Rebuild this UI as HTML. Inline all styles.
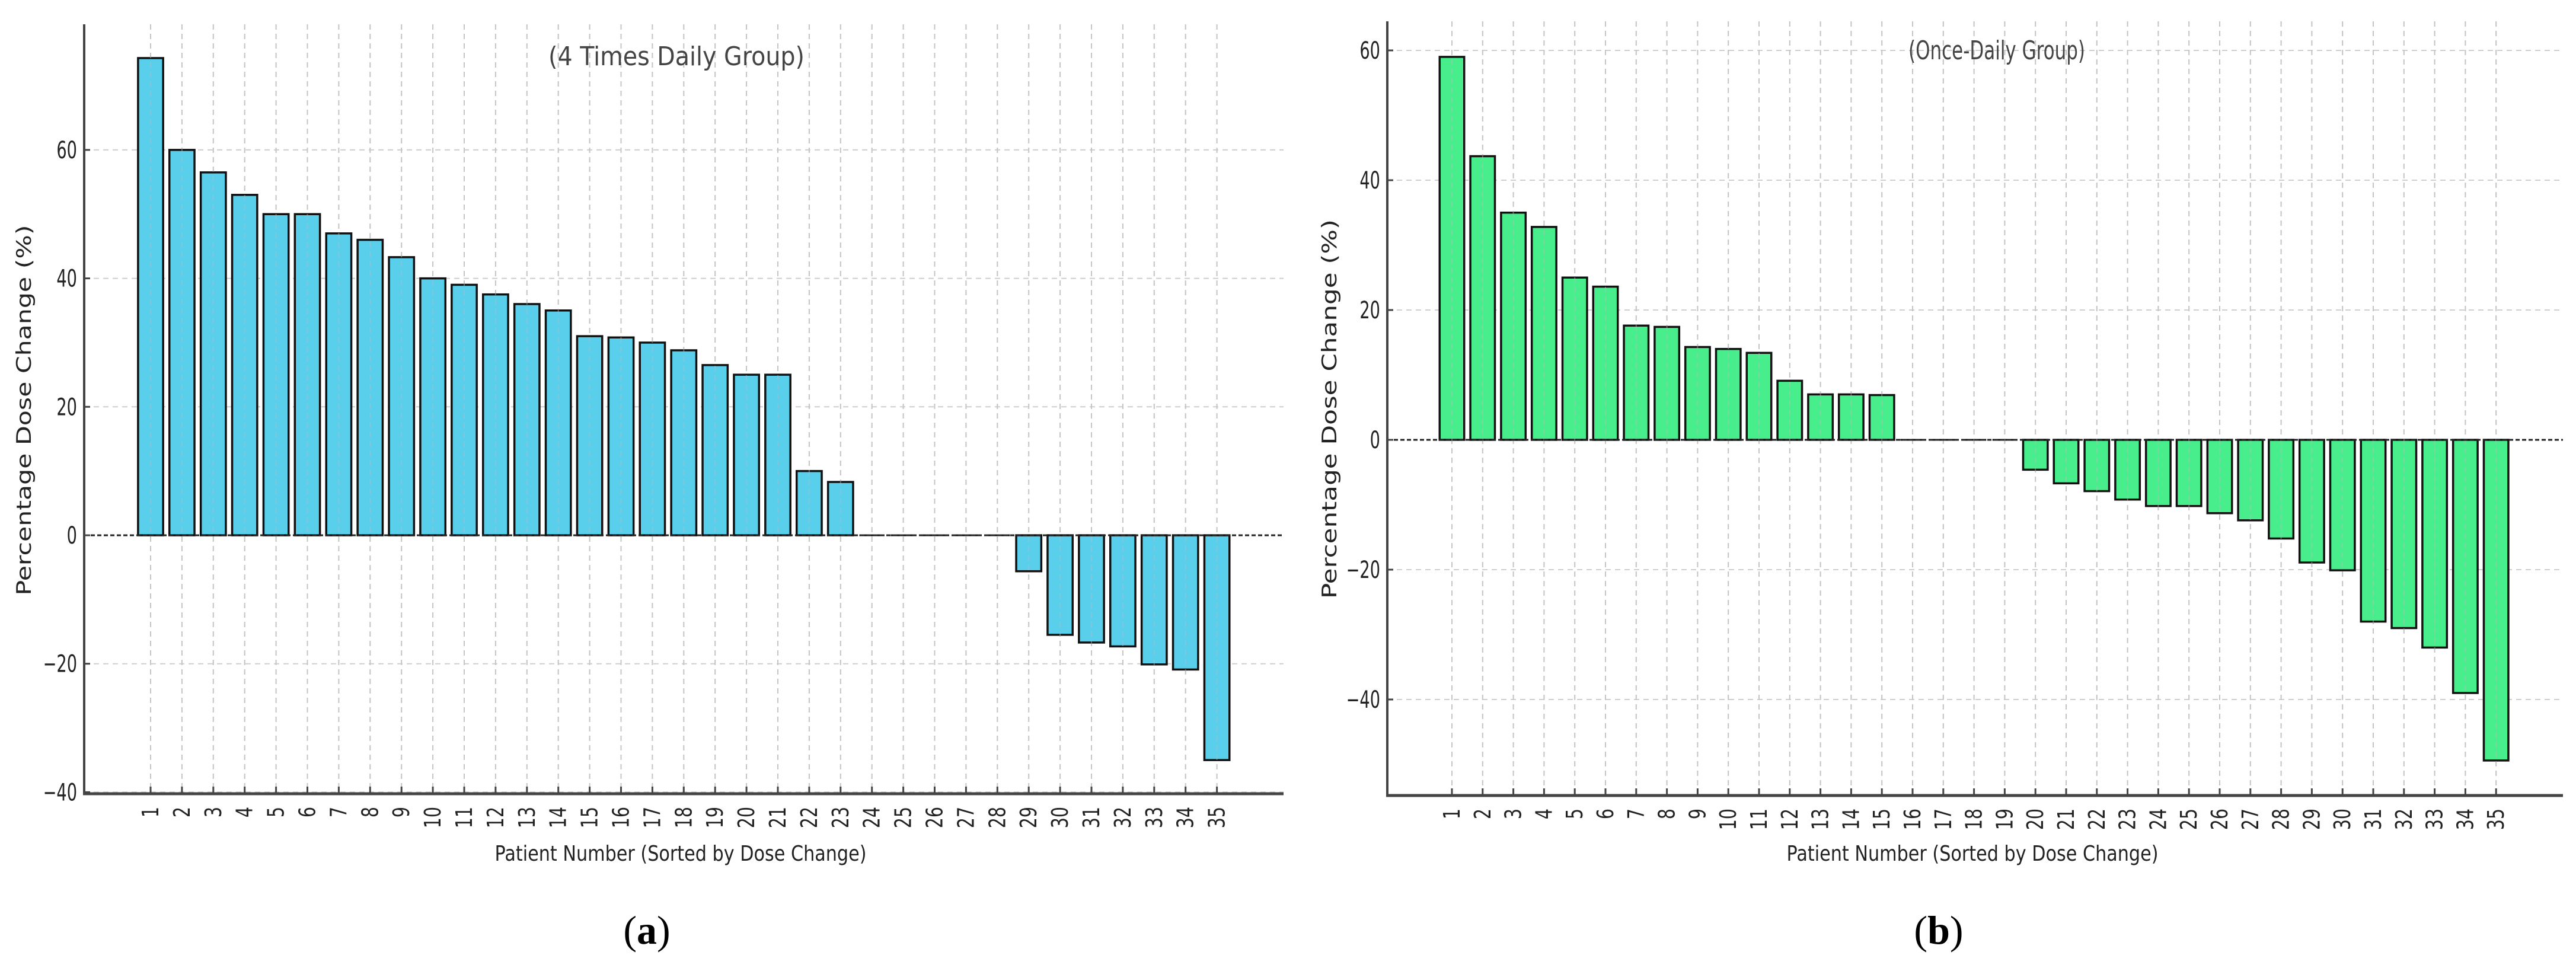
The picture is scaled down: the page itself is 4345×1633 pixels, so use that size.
<!DOCTYPE html>
<html><head><meta charset="utf-8"><style>
html,body{margin:0;padding:0;background:#fff;}
svg{display:block;}
text{font-family:"DejaVu Sans","Liberation Sans",sans-serif;}
</style></head><body>
<svg id="fig" width="4345" height="1633" viewBox="0 0 4345 1633" xmlns="http://www.w3.org/2000/svg">
<rect x="0" y="0" width="4345" height="1633" fill="#fff"/>
<g id="panelA"></g>
<g id="panelB"></g>
<text x="1091" y="1592" font-size="68" text-anchor="middle" style="font-family:'Liberation Serif',serif">(<tspan font-weight="bold">a</tspan>)</text>
<text x="3270" y="1592" font-size="68" text-anchor="middle" style="font-family:'Liberation Serif',serif">(<tspan font-weight="bold">b</tspan>)</text>
</svg>
<script>
const patientsA = ["1","2","3","4","5","6","7","8","9","10","11","12","13","14","15","16","17","18","19","20","21","22","23","24","25","26","27","28","29","30","31","32","33","34","35"];
const valuesA = [74.3,60,56.5,53,50,50,47,46,43.3,40,39,37.5,36,35,31,30.8,30,28.8,26.5,25,25,10,8.3,0,0,0,0,0,-5.6,-15.5,-16.7,-17.3,-20.1,-20.9,-35];
const ticksA = [-40,-20,0,20,40,60];
const patientsB = ["1","2","3","4","5","6","7","8","9","10","11","12","13","14","15","16","17","18","19","20","21","22","23","24","25","26","27","28","29","30","31","32","33","34","35"];
const valuesB = [59,43.7,35,32.8,25,23.6,17.6,17.4,14.3,14,13.4,9.1,7,7,6.9,0,0,0,0,-4.6,-6.7,-7.9,-9.2,-10.2,-10.2,-11.3,-12.4,-15.2,-18.9,-20.1,-28,-29,-32,-39,-49.4];
const ticksB = [-40,-20,0,20,40,60];

const NS="http://www.w3.org/2000/svg";
function mk(tag, attrs, parent){const e=document.createElementNS(NS,tag);for(const k in attrs)e.setAttribute(k,attrs[k]);parent.appendChild(e);return e;}

function drawPanel(g, cfg, cats, vals, ticks){
  const yScale = v => cfg.y0 - v*cfg.pxPer;
  const xScale = i => cfg.xc1 + i*cfg.step;
  // grid verticals
  cats.forEach((c,i)=>{
    const l=mk('line',{x1:xScale(i),x2:xScale(i),y1:cfg.top,y2:cfg.bottom,stroke:'#cfcfcf','stroke-width':2,'stroke-dasharray':'9,7'},g);
    
    
  });
  ticks.forEach(t=>{
    if(t===0) return;
    const l=mk('line',{x1:cfg.left,x2:cfg.right,y1:yScale(t),y2:yScale(t),stroke:'#cfcfcf','stroke-width':2,'stroke-dasharray':'9,7'},g);
    
    
  });
  // bars
  const bw = cfg.step*0.8;
  vals.forEach((v,i)=>{
    const x=xScale(i)-bw/2;
    if(v===0){
      const l=mk('line',{x1:x,x2:x+bw,y1:yScale(0),y2:yScale(0),stroke:'#111','stroke-width':3},g);
      
      
    } else {
      const y=Math.min(yScale(v),yScale(0)), h=Math.abs(yScale(v)-yScale(0));
      const r=mk('rect',{x:x,y:y,width:bw,height:h,fill:cfg.color,stroke:'#111','stroke-width':3.5},g);
      
      
    }
  });
  // grid over bars (faint)
  cats.forEach((c,i)=>{
    const l=mk('line',{x1:xScale(i),x2:xScale(i),y1:cfg.top,y2:cfg.bottom,stroke:'#bbbbbb','stroke-width':2,'stroke-dasharray':'9,7',opacity:0.45},g);
    
    
  });
  // zero line
  const z=mk('line',{x1:cfg.left,x2:cfg.right,y1:yScale(0),y2:yScale(0),stroke:'#222','stroke-width':3,'stroke-dasharray':'7,4'},g);
  
  
  // spines
  const sl=mk('line',{x1:cfg.left,x2:cfg.left,y1:cfg.top,y2:cfg.bottom,stroke:'#444','stroke-width':4},g);
  
  
  const sb=mk('line',{x1:cfg.left-2,x2:cfg.right,y1:cfg.bottom,y2:cfg.bottom,stroke:'#444','stroke-width':5},g);
  
  
  // y ticks
  ticks.forEach(t=>{
    const y=yScale(t);
    const tk=mk('line',{x1:cfg.left,x2:cfg.left+10,y1:y,y2:y,stroke:'#444','stroke-width':3},g);
    
    
    const lab=(t<0?'\u2212':'')+Math.abs(t);
    const tx=mk('text',{x:cfg.left-12,y:y+14,'font-size':40,'text-anchor':'end',fill:'#222',transform:`translate(${cfg.left-12} 0) scale(0.68 1) translate(${-(cfg.left-12)} 0)`},g);
    tx.textContent=lab;
    
    
  });
  // x ticks + labels
  cats.forEach((c,i)=>{
    const x=xScale(i);
    const tk=mk('line',{x1:x,x2:x,y1:cfg.bottom,y2:cfg.bottom-12,stroke:'#444','stroke-width':3},g);
    
    
    const tx=mk('text',{x:0,y:0,'font-size':38,'text-anchor':'end',fill:'#222',transform:`translate(${x+13} ${cfg.bottom+22}) rotate(-90) scale(0.75 1)`},g);
    tx.textContent=c;
    
    
  });
  // labels
  const xl=mk('text',{x:cfg.xlabelX,y:1452,'font-size':36,'text-anchor':'middle',fill:'#222',textLength:627,lengthAdjust:'spacingAndGlyphs'},g);
  xl.textContent='Patient Number (Sorted by Dose Change)';
  
  
  const yl=mk('text',{x:0,y:0,'font-size':34,'text-anchor':'middle',fill:'#222',textLength:cfg.ylabelLen,lengthAdjust:'spacingAndGlyphs',transform:`translate(${cfg.ylabelX} ${cfg.ylabelY}) rotate(-90)`},g);
  yl.textContent='Percentage Dose Change (%)';
  
  
  const tl=mk('text',{x:cfg.titleX,y:cfg.titleY,'font-size':44,'text-anchor':'middle',fill:'#444',textLength:cfg.titleLen,lengthAdjust:'spacingAndGlyphs'},g);
  tl.textContent=cfg.title;
  
  
}

drawPanel(document.getElementById('panelA'),{
  left:142,right:2165,top:41,bottom:1339,y0:903,pxPer:216.7/20,xc1:254,step:52.9,color:'#5acfec',
  xlabelX:1148,ylabelX:52,ylabelY:692,ylabelLen:625,titleX:1141,titleY:110,titleLen:432,title:'(4 Times Daily Group)'
},patientsA,valuesA,ticksA);

drawPanel(document.getElementById('panelB'),{
  left:2340,right:4323,top:36,bottom:1342,y0:742,pxPer:219/20,xc1:2449,step:51.8,color:'#48ee8c',
  xlabelX:3327,ylabelX:2254,ylabelY:690,ylabelLen:640,titleX:3368,titleY:100,titleLen:298,title:'(Once-Daily Group)'
},patientsB,valuesB,ticksB);
</script>
</body></html>
